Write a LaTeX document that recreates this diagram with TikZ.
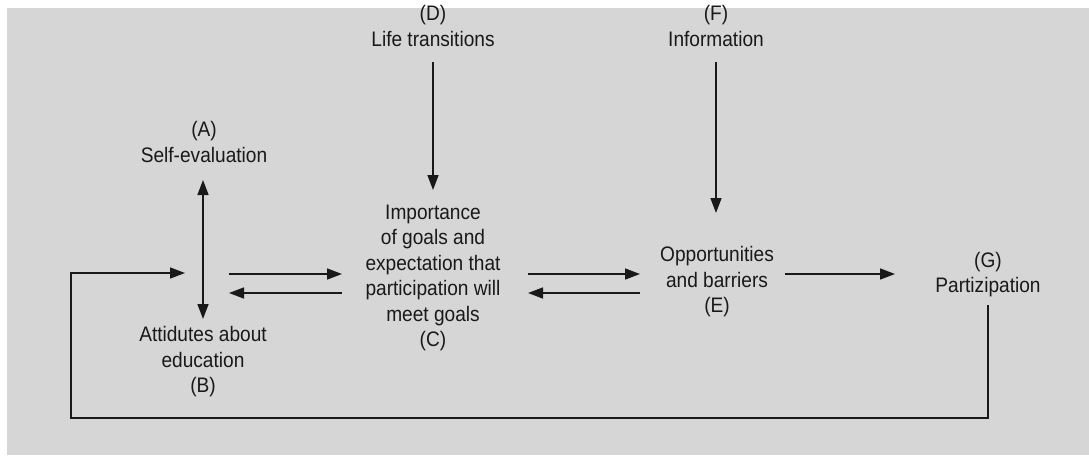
\documentclass[tikz,border=0pt]{standalone}
\usepackage{fontspec}
\setmainfont{Liberation Sans}[FakeStretch=0.91]
\usetikzlibrary{arrows.meta,calc}

\definecolor{panelgray}{RGB}{214,214,214}
\definecolor{inkgray}{RGB}{25,25,25}

\begin{document}
\begin{tikzpicture}[x=1pt,y=-1pt]
    \tikzstyle{factor}=[align=center, text=inkgray, inner sep=2pt,
                        font=\fontsize{21}{25.5}\selectfont]
    \tikzstyle{link}=[draw=inkgray, line width=1.5pt,
                      -{Triangle[length=15pt,width=11pt]}]

    % Panel
    \fill[white] (0,0) rectangle (1089,455);
    \fill[panelgray] (7,8) rectangle (1089,455);
    \useasboundingbox (0,0) rectangle (1089,455);

    % Factors of the model
    \node [factor] (A) at (204,142) {(A)\\Self-evaluation};
    \node [factor] (B) at (203,362) {Attidutes about\\education\\(B)};
    \node [factor] (C) at (433,278) {Importance\\of goals and\\expectation that\\participation will\\meet goals\\(C)};
    \node [factor] (D) at (433,26) {(D)\\Life transitions};
    \node [factor] (E) at (717,282) {Opportunities\\and barriers\\(E)};
    \node [factor] (F) at (716,26) {(F)\\Information};
    \node [factor] (G) at (988,274.5) {(G)\\Partizipation};

    % Ends of the side arrows
    \coordinate (Bout) at (229,283.5);
    \coordinate (Cin)  at (342,283.5);
    \coordinate (Cout) at (528,283.5);
    \coordinate (Ein)  at (640,283.5);
    \coordinate (Eout) at (785,274);
    \coordinate (Gin)  at (895,274);
    \coordinate (back) at (71,418);
    \coordinate (loop) at (185,273);

    % Arrows
    \draw [link,{Triangle[length=15pt,width=11pt]}-{Triangle[length=15pt,width=11pt]}]
        (203,180) -- (203,319);
    \draw [link] (D) ++(0,36) -- (433,190);
    \draw [link] (F) ++(0,36) -- (716,213);
    \draw [link] ([yshift=9.5pt]Bout) -- ([yshift=9.5pt]Cin);
    \draw [link] ([yshift=-9.5pt]Cin) -- ([yshift=-9.5pt]Bout);
    \draw [link] ([yshift=9.5pt]Cout) -- ([yshift=9.5pt]Ein);
    \draw [link] ([yshift=-9.5pt]Ein) -- ([yshift=-9.5pt]Cout);
    \draw [link] (Eout) -- (Gin);

    % Feedback from participation
    \draw [link] (G.south) ++(0,6) |- (back) |- (loop);
\end{tikzpicture}
\end{document}
